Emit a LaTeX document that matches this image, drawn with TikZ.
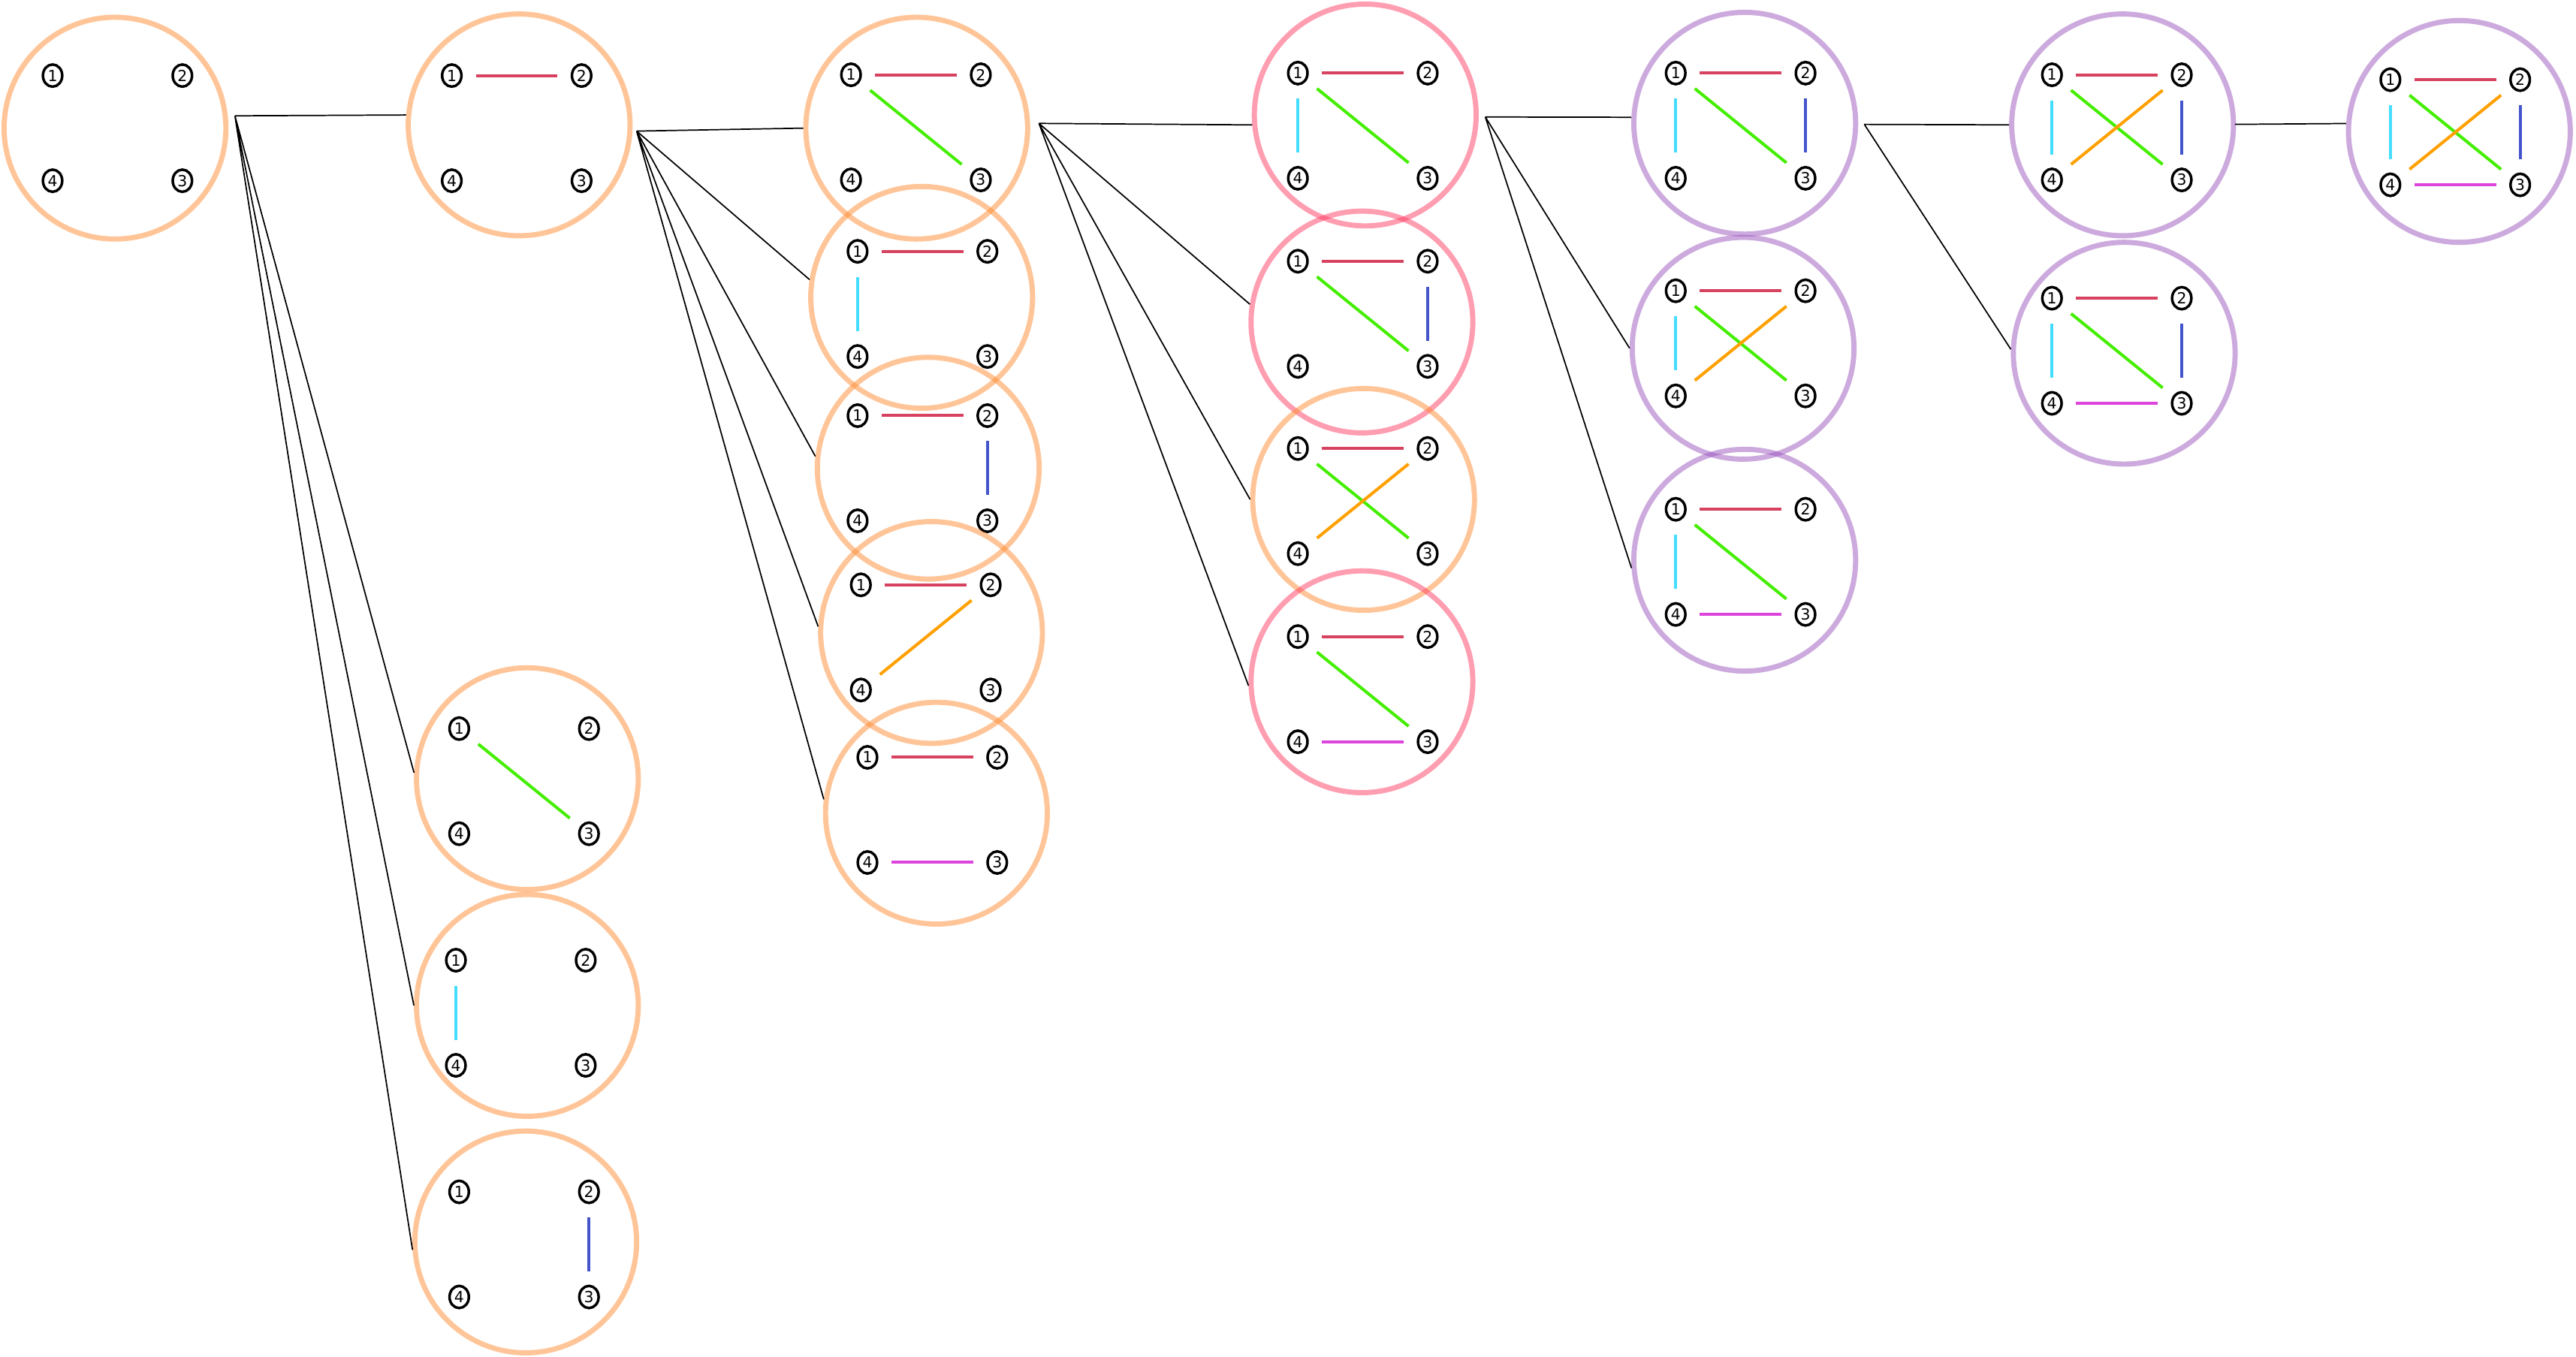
\documentclass[tikz,border=0pt]{standalone}
\usepackage{fontspec}
\setmainfont{DejaVu Sans}
\usepackage{tikz}
\usetikzlibrary{shapes.geometric, calc}
\usepackage{xcolor}
\definecolor{peach}{RGB}{255,140,50}
\definecolor{rose}{RGB}{255,60,100}
\definecolor{lilac}{RGB}{155,85,190}
\definecolor{c12}{RGB}{214,66,96}
\definecolor{c13}{RGB}{68,238,0}
\definecolor{c14}{RGB}{68,221,255}
\definecolor{c23}{RGB}{68,85,204}
\definecolor{c24}{RGB}{255,160,0}
\definecolor{c34}{RGB}{220,68,220}

% one state: ring, then the four numbered vertices
\newcommand{\graphstate}[4]{%
  \node[ring, draw=#4] (#1) at (#2) {};
  \path (#3) ++(-39.5,-32) node[lbl] (#1-1) {1}
        (#3) ++(39.5,-32)  node[lbl] (#1-2) {2}
        (#3) ++(39.5,32)   node[lbl] (#1-3) {3}
        (#3) ++(-39.5,32)  node[lbl] (#1-4) {4};
}
\newcommand{\graphedges}[2]{%
  \foreach \u/\v in {#2} \draw[edge, draw=c\u\v] (#1-\u) -- (#1-\v);
}

\begin{document}
\begin{tikzpicture}[
      x=0.2mm, y=-0.2mm,
      ring/.style={circle, minimum size=27mm, inner sep=0pt,
                   line width=1.8pt, draw opacity=0.5},
      lbl/.style={ellipse, draw=black, line width=0.9pt, inner sep=0pt,
                  minimum width=2.35mm, minimum height=2.7mm,
                  font=\fontsize{5.3}{6}\selectfont},
      edge/.style={line width=1.05pt, shorten <=1.6mm, shorten >=1.6mm},
      link/.style={draw=black, line width=0.45pt}
    ]
    \useasboundingbox (0,0) rectangle (1568,826);

    % level 0
    \graphstate{s0}{70,78}{71.5,78}{peach}

    % level 1
    \graphstate{s1a}{316,76}{314.5,78}{peach}
    \graphedges{s1a}{1/2}
    \graphstate{s1b}{321,474}{319,475.5}{peach}
    \graphedges{s1b}{1/3}
    \graphstate{s1c}{321,612}{317,616.5}{peach}
    \graphedges{s1c}{1/4}
    \graphstate{s1d}{320,756}{319,757.5}{peach}
    \graphedges{s1d}{2/3}

    % level 2
    \graphstate{s2a}{558,78}{557.5,77.5}{peach}
    \graphedges{s2a}{1/2, 1/3}
    \graphstate{s2b}{561,181}{561.5,185}{peach}
    \graphedges{s2b}{1/2, 1/4}
    \graphstate{s2c}{565,285}{561.5,285}{peach}
    \graphedges{s2c}{1/2, 2/3}
    \graphstate{s2d}{567,385}{563.5,388}{peach}
    \graphedges{s2d}{1/2, 2/4}
    \graphstate{s2e}{570,495}{567.5,493}{peach}
    \graphedges{s2e}{1/2, 3/4}

    % level 3
    \graphstate{s3a}{831,70}{829.5,76.5}{rose}
    \graphedges{s3a}{1/2, 1/3, 1/4}
    \graphstate{s3b}{829,196}{829.5,191}{rose}
    \graphedges{s3b}{1/2, 1/3, 2/3}
    \graphstate{s3c}{830,304}{829.5,305}{peach}
    \graphedges{s3c}{1/2, 1/3, 2/4}
    \graphstate{s3d}{829,415}{829.5,419.5}{rose}
    \graphedges{s3d}{1/2, 1/3, 3/4}

    % level 4
    \graphstate{s4a}{1062,75}{1059.5,76.5}{lilac}
    \graphedges{s4a}{1/2, 1/3, 1/4, 2/3}
    \graphstate{s4b}{1061,212}{1059.5,209}{lilac}
    \graphedges{s4b}{1/2, 1/3, 1/4, 2/4}
    \graphstate{s4c}{1062,341}{1059.5,342}{lilac}
    \graphedges{s4c}{1/2, 1/3, 1/4, 3/4}

    % level 5
    \graphstate{s5a}{1292,76}{1288.5,77.5}{lilac}
    \graphedges{s5a}{1/2, 1/3, 1/4, 2/3, 2/4}
    \graphstate{s5b}{1293,215}{1288.5,213.5}{lilac}
    \graphedges{s5b}{1/2, 1/3, 1/4, 2/3, 3/4}

    % level 6
    \graphstate{s6a}{1497,80}{1494.5,80.5}{lilac}
    \graphedges{s6a}{1/2, 1/3, 1/4, 2/3, 2/4, 3/4}

    % branching points
    \coordinate (h0) at (143,70.5);
    \coordinate (h1) at (387.5,79.8);
    \coordinate (h2) at (632.4,75.1);
    \coordinate (h3) at (904.1,71.2);
    \coordinate (h4) at (1134.8,75.7);
    \coordinate (h5) at (1360.4,75.7);

    \draw[link] (h0) -- (s1a.175) (h0) -- (s1b.177) (h0) -- (s1c.180) (h0) -- (s1d.184);
    \draw[link] (h1) -- (s2a.180) (h1) -- (s2b.171) (h1) -- (s2c.174)
                (h1) -- (s2d.177) (h1) -- (s2e.173);
    \draw[link] (h2) -- (s3a.185) (h2) -- (s3b.171) (h2) -- (s3c.180) (h2) -- (s3d.182);
    \draw[link] (h3) -- (s4a.177) (h3) -- (s4b.180) (h3) -- (s4c.184);
    \draw[link] (h4) -- (s5a.180) (h4) -- (s5b.178);
    \draw[link] (h5) -- (s6a.176);
  \end{tikzpicture}
\end{document}
